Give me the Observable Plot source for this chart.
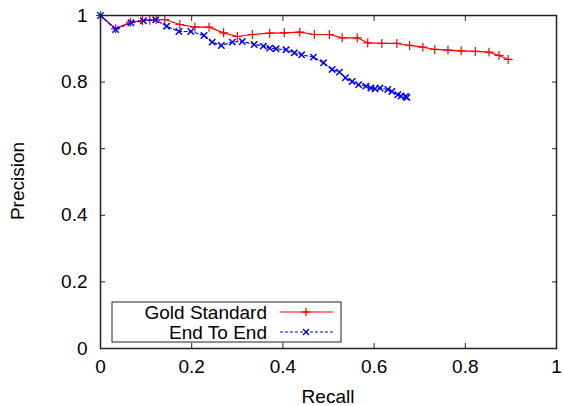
<!DOCTYPE html>
<html>
<head>
<meta charset="utf-8">
<script src="https://cdn.jsdelivr.net/npm/d3@7"></script>
<script src="https://cdn.jsdelivr.net/npm/@observablehq/plot@0.6"></script>
<style>
  html, body { margin: 0; padding: 0; background: #fff; }
  svg { font-family: "Liberation Sans", Arial, sans-serif; }
</style>
</head>
<body>
<div id="chart"></div>
<script>
const goldRecall = [0, 0.033, 0.066, 0.092, 0.108, 0.122, 0.141, 0.174, 0.207, 0.238, 0.27, 0.30, 0.333, 0.371, 0.403, 0.437, 0.469, 0.502, 0.53, 0.563, 0.586, 0.617, 0.65, 0.678, 0.707, 0.733, 0.762, 0.791, 0.822, 0.852, 0.874, 0.894];
const goldPrecision = [1.0, 0.96, 0.98, 0.985, 0.986, 0.987, 0.988, 0.973, 0.965, 0.965, 0.948, 0.937, 0.943, 0.947, 0.948, 0.95, 0.943, 0.943, 0.933, 0.933, 0.918, 0.916, 0.916, 0.91, 0.905, 0.898, 0.896, 0.894, 0.892, 0.89, 0.88, 0.868];

const e2eRecall = [0, 0.033, 0.067, 0.094, 0.121, 0.145, 0.172, 0.198, 0.227, 0.245, 0.265, 0.289, 0.311, 0.337, 0.357, 0.371, 0.385, 0.407, 0.425, 0.441, 0.467, 0.489, 0.508, 0.524, 0.537, 0.552, 0.566, 0.582, 0.593, 0.602, 0.613, 0.63, 0.639, 0.652, 0.659, 0.669, 0.672];
const e2ePrecision = [1.0, 0.958, 0.978, 0.984, 0.987, 0.968, 0.952, 0.952, 0.94, 0.92, 0.91, 0.92, 0.922, 0.913, 0.908, 0.902, 0.90, 0.897, 0.888, 0.882, 0.875, 0.858, 0.838, 0.83, 0.813, 0.802, 0.792, 0.788, 0.782, 0.78, 0.782, 0.778, 0.772, 0.762, 0.758, 0.757, 0.754];

const tickValues = [0, 0.2, 0.4, 0.6, 0.8, 1];
const seriesNames = ["Gold Standard", "End To End"];
const xLabel = "Recall";
const yLabel = "Precision";

const gold = goldRecall.map((r, i) => ({recall: r, precision: goldPrecision[i]}));
const e2e = e2eRecall.map((r, i) => ({recall: r, precision: e2ePrecision[i]}));

const FS = 19;
const fmt = d => String(d);
const none = () => "";

const chart = Plot.plot({
  width: 563,
  height: 406,
  marginLeft: 100,
  marginRight: 7,
  marginTop: 15,
  marginBottom: 58,
  style: {fontFamily: "'Liberation Sans', Arial, sans-serif", background: "#fff"},
  x: {domain: [0, 1]},
  y: {domain: [0, 1]},
  marks: [
    Plot.axisX({ticks: tickValues, tickSize: 0, tickPadding: 11, tickFormat: fmt, fontSize: FS, label: null, color: "#000"}),
    Plot.axisX({ticks: tickValues, tickSize: -5, anchor: "bottom", tickFormat: none, label: null, stroke: "#222"}),
    Plot.axisX({ticks: tickValues, tickSize: -5, anchor: "top", tickFormat: none, label: null, stroke: "#222"}),
    Plot.axisY({ticks: tickValues, tickSize: 0, tickPadding: 13, tickFormat: fmt, fontSize: FS, label: null, color: "#000"}),
    Plot.axisY({ticks: tickValues, tickSize: -5, anchor: "left", tickFormat: none, label: null, stroke: "#222"}),
    Plot.axisY({ticks: tickValues, tickSize: -5, anchor: "right", tickFormat: none, label: null, stroke: "#222"}),
    Plot.line(gold, {x: "recall", y: "precision", stroke: "#ff0000", strokeWidth: 1.2}),
    Plot.dot(gold, {x: "recall", y: "precision", symbol: "plus", stroke: "#ff0000", r: 3, strokeWidth: 1.2}),
    Plot.line(e2e, {x: "recall", y: "precision", stroke: "#0000ff", strokeWidth: 1.2, strokeDasharray: "3,2.5"}),
    Plot.dot(e2e, {x: "recall", y: "precision", symbol: "times", stroke: "#0000ff", r: 3, strokeWidth: 1.5}),
    Plot.frame({stroke: "#222", strokeWidth: 1.5})
  ]
});

const svg = d3.select(chart);
// axis titles
svg.append("text")
  .attr("x", 328).attr("y", 403)
  .attr("text-anchor", "middle")
  .attr("font-size", FS).attr("fill", "#000")
  .text(xLabel);
svg.append("text")
  .attr("transform", "translate(24,181) rotate(-90)")
  .attr("text-anchor", "middle")
  .attr("font-size", FS).attr("fill", "#000")
  .text(yLabel);

// legend
const lg = svg.append("g");
lg.append("rect").attr("x", 112).attr("y", 302).attr("width", 229).attr("height", 40)
  .attr("fill", "#fff").attr("stroke", "#222").attr("stroke-width", 1);
const legendItems = [
  {name: seriesNames[0], color: "#ff0000", dash: null, sym: d3.symbolPlus},
  {name: seriesNames[1], color: "#0000ff", dash: "3,2", sym: d3.symbolTimes}
];
legendItems.forEach((it, i) => {
  const yy = 312 + i * 20;
  lg.append("text").attr("x", 267).attr("y", yy + 7).attr("text-anchor", "end")
    .attr("font-size", FS).attr("fill", "#000").text(it.name);
  lg.append("line").attr("x1", 280).attr("x2", 333).attr("y1", yy).attr("y2", yy)
    .attr("stroke", it.color).attr("stroke-width", 1.2).attr("stroke-dasharray", it.dash);
  lg.append("path").attr("transform", `translate(306,${yy})`)
    .attr("d", d3.symbol(it.sym, 25)())
    .attr("fill", "none").attr("stroke", it.color).attr("stroke-width", 1.3);
});

document.getElementById("chart").appendChild(chart);
</script>
</body>
</html>
